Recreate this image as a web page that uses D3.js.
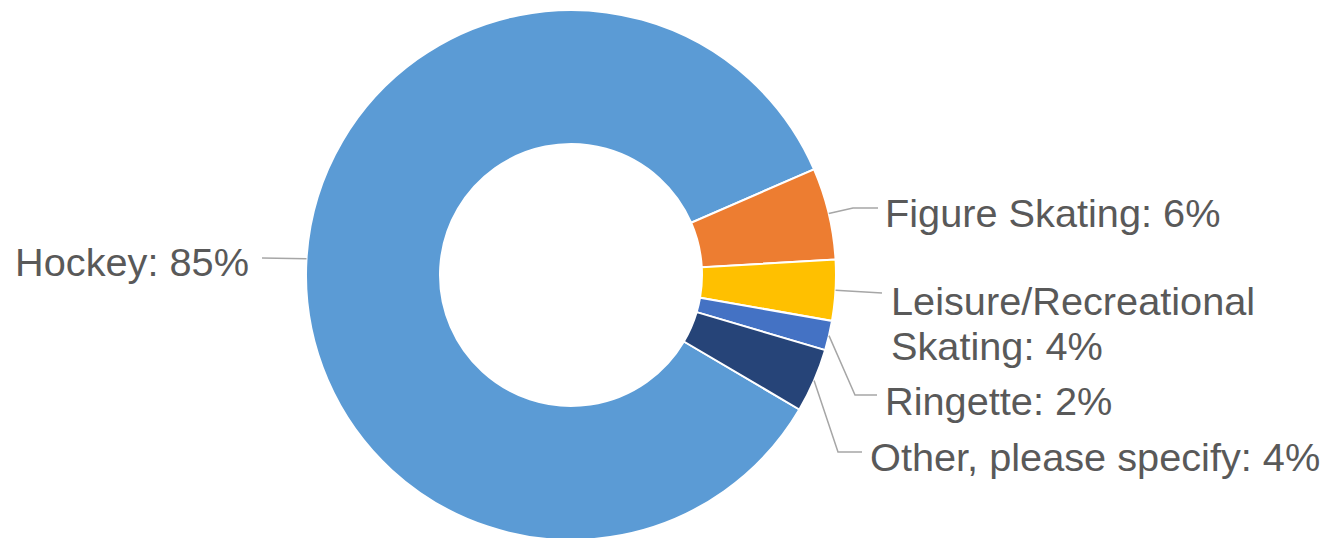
<!DOCTYPE html>
<html>
<head>
  <meta charset="utf-8">
  <script src="https://d3js.org/d3.v7.min.js"></script>
  <style>
    body { margin: 0; background: #ffffff; }
    text.label {
      font-family: "Liberation Sans", Arial, sans-serif;
      font-size: 38px;
      fill: #595959;
    }
    path.leader {
      fill: none;
      stroke: #a6a6a6;
      stroke-width: 1.5;
    }
  </style>
</head>
<body>
<script>
  // chart data
  const categories = ["Hockey", "Figure Skating", "Leisure/Recreational Skating", "Ringette", "Other, please specify"];
  const values = [85.0, 5.6, 3.7, 1.8, 3.9];
  const colours = ["#5b9bd5", "#ed7d31", "#ffc000", "#4472c4", "#264478"];

  // label placement (elbow of leader line, end of line, text position)
  const leaderElbow = [null, [853, 208], null, [855, 395], [838, 452]];
  const leaderEnd = [[262, 258], [878, 208], [882, 293], [877, 395], [862, 452]];
  const textPos = [[249, 276, "end"], [885, 227, "start"], [891, 315, "start"], [885, 415, "start"], [870, 471, "start"]];

  const width = 1328, height = 538;
  const cx = 571, cy = 275;
  const outerR = 265, innerR = 131;
  const stretch = 1.045;   // labels are drawn a touch wider than the font

  const svg = d3.select("body").append("svg")
    .attr("width", width)
    .attr("height", height);

  const total = d3.sum(values);
  const data = categories.map((c, i) => ({name: c, value: values[i], colour: colours[i], i: i}));

  // figure skating starts at ~66.5 deg from top, hockey runs clockwise before it
  const start = 66.5 * Math.PI / 180 - values[0] / total * 2 * Math.PI;
  const pie = d3.pie().sort(null).value(d => d.value)
    .startAngle(start).endAngle(start + 2 * Math.PI);
  const arcs = pie(data);

  const arc = d3.arc().innerRadius(innerR).outerRadius(outerR);

  const g = svg.append("g").attr("transform", `translate(${cx},${cy})`);

  g.selectAll("path.slice")
    .data(arcs)
    .enter()
    .append("path")
    .attr("class", "slice")
    .attr("d", arc)
    .style("fill", d => d.data.colour)
    .style("stroke", "#ffffff")
    .style("stroke-width", 2);

  // leader lines
  arcs.forEach((a, i) => {
    const mid = (a.startAngle + a.endAngle) / 2;
    const ax = cx + outerR * Math.sin(mid);
    const ay = cy - outerR * Math.cos(mid);
    const pts = [[ax, ay]];
    if (leaderElbow[i]) pts.push(leaderElbow[i]);
    pts.push(leaderEnd[i]);
    svg.append("path")
      .attr("class", "leader")
      .attr("d", d3.line()(pts));
  });

  // labels, wrapped to fit the right edge
  arcs.forEach((a, i) => {
    const pct = Math.round(a.data.value / total * 100);
    const str = `${a.data.name}: ${pct}%`;
    const [tx, ty, anchor] = textPos[i];
    const t = svg.append("text")
      .attr("class", "label")
      .attr("transform", `translate(${tx},${ty}) scale(${stretch},1)`)
      .style("text-anchor", anchor);
    const maxW = (anchor === "start" ? width - tx - 5 : tx - 5) / stretch;
    const words = str.split(" ");
    let line = [];
    let tspan = t.append("tspan").attr("x", 0).attr("y", 0);
    let lineNo = 0;
    words.forEach(w => {
      line.push(w);
      tspan.text(line.join(" "));
      if (tspan.node().getComputedTextLength() > maxW && line.length > 1) {
        line.pop();
        tspan.text(line.join(" "));
        line = [w];
        lineNo++;
        tspan = t.append("tspan").attr("x", 0).attr("y", lineNo * 45).text(w);
      }
    });
  });
</script>
</body>
</html>
